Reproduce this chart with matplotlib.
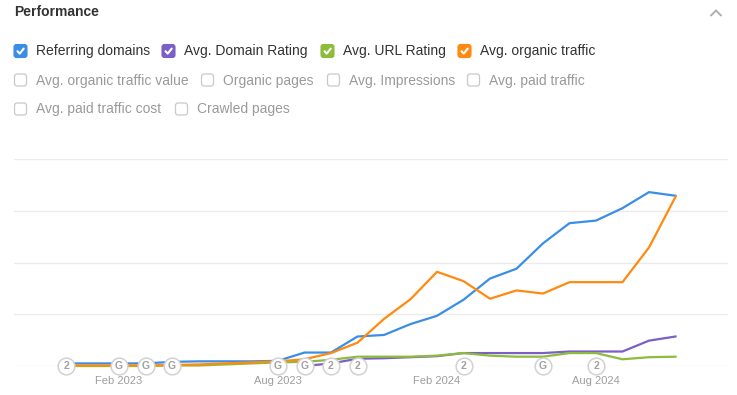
import numpy as np
import matplotlib
matplotlib.use('Agg')
import matplotlib.pyplot as plt
from matplotlib.patches import FancyBboxPatch

plt.rcParams['font.family'] = ['Liberation Sans', 'DejaVu Sans']

# Monthly points, Dec 2022 .. Nov 2024 (values on a relative scale, gridlines every 100)
months = ['Dec 2022', 'Jan 2023', 'Feb 2023', 'Mar 2023', 'Apr 2023', 'May 2023',
          'Jun 2023', 'Jul 2023', 'Aug 2023', 'Sep 2023', 'Oct 2023', 'Nov 2023',
          'Dec 2023', 'Jan 2024', 'Feb 2024', 'Mar 2024', 'Apr 2024', 'May 2024',
          'Jun 2024', 'Jul 2024', 'Aug 2024', 'Sep 2024', 'Oct 2024', 'Nov 2024']

referring_domains = [5, 5, 5, 5, 8, 9, 9, 9, 10, 26, 26, 57,
                     60, 81, 97, 128, 169, 188, 237, 276, 281, 305, 336, 329]
domain_rating = [None, None, None, None, None, None, None, None, None, 0, 5, 14,
                 15, 17, 19, 25, 25, 25, 25, 28, 28, 28, 49, 57]
url_rating = [0, 0, 0, 0, 1, 1, 3, 5, 7, 8, 12, 18,
              18, 18, 20, 25, 20, 18, 18, 25, 25, 13, 17, 18]
organic_traffic = [1, 1, 1, 1, 2, 3, 5, 7, 9, 13, 25, 45,
                   91, 129, 182, 164, 130, 146, 140, 162, 162, 162, 229, 327]

# annotation badges on the time axis
event_months = ['Dec 2022', 'Feb 2023', 'Mar 2023', 'Apr 2023', 'Aug 2023', 'Sep 2023',
                'Oct 2023', 'Nov 2023', 'Mar 2024', 'Jun 2024', 'Aug 2024']
event_labels = ['2', 'G', 'G', 'G', 'G', 'G', '2', '2', '2', 'G', '2']

tick_months = ['Feb 2023', 'Aug 2023', 'Feb 2024', 'Aug 2024']

checked_items = ['Referring domains', 'Avg. Domain Rating', 'Avg. URL Rating', 'Avg. organic traffic']
unchecked_items = ['Avg. organic traffic value', 'Organic pages', 'Avg. Impressions',
                   'Avg. paid traffic', 'Avg. paid traffic cost', 'Crawled pages']

c_blue = '#3a8ee4'
c_purple = '#7b5fc7'
c_green = '#8dbb3c'
c_orange = '#ff8a0f'

W, H = 737, 395
fig = plt.figure(figsize=(W / 100, H / 100), dpi=100)
fig.patch.set_facecolor('white')

# ---- chart area ----
ax = fig.add_axes([14 / W, (H - 366) / H, 714 / W, 207 / H])
x = np.arange(len(months))


def to_arr(vals):
    return np.array([np.nan if v is None else v for v in vals], dtype=float)


ax.plot(x, to_arr(referring_domains), color=c_blue, lw=1.6, zorder=3, clip_on=False)
ax.plot(x, to_arr(domain_rating), color=c_purple, lw=1.6, zorder=3, clip_on=False)
ax.plot(x, to_arr(url_rating), color=c_green, lw=1.6, zorder=3, clip_on=False)
ax.plot(x, to_arr(organic_traffic), color=c_orange, lw=1.6, zorder=3, clip_on=False)

ax.set_xlim(-52 / 26.5, (728 - 66) / 26.5)
ax.set_ylim(0, 400)
ax.set_yticks([0, 100, 200, 300, 400])
ax.yaxis.grid(True, color='#ebebeb', lw=1)
ax.set_axisbelow(True)
ax.tick_params(axis='y', left=False, labelleft=False)
for s in ax.spines.values():
    s.set_visible(False)

ax.set_xticks([months.index(m) for m in tick_months])
ax.set_xticklabels(tick_months, color='#9e9e9e', fontsize=8)
ax.tick_params(axis='x', length=0, pad=7.5)

ex = [months.index(m) for m in event_months]
ax.scatter(ex, np.zeros(len(ex)), s=145, facecolor='white', edgecolor='#d2d2d2',
           lw=1.1, zorder=5, clip_on=False)
for xi, lab in zip(ex, event_labels):
    ax.text(xi, 0, lab, ha='center', va='center', fontsize=7.5, fontweight='bold',
            color='#a0a0a0', zorder=6, clip_on=False)

# ---- header and checkbox legend (pixel coordinates) ----
ui = fig.add_axes([0, 0, 1, 1], zorder=-1)
ui.set_xlim(0, W)
ui.set_ylim(H, 0)
ui.axis('off')

ui.text(14, 12.5, 'Performance', fontsize=10, fontweight='bold', color='#333333',
        ha='left', va='center')
ui.plot([711, 716, 721], [15.5, 10.5, 15.5], color='#b0b0b0', lw=1.4,
        solid_capstyle='round', solid_joinstyle='miter')


def checkbox(x0, yc, label, color=None):
    size = 13
    if color is not None:
        box = FancyBboxPatch((x0, yc - size / 2), size, size,
                             boxstyle='round,pad=0,rounding_size=2.5',
                             facecolor=color, edgecolor=color, lw=0.8)
        ui.add_patch(box)
        ui.plot([x0 + 3.5, x0 + 5.7, x0 + 9.7], [yc + 0.2, yc + 2.6, yc - 2.4],
                color='white', lw=1.5, solid_capstyle='round', solid_joinstyle='round')
        txt_color = '#333333'
    else:
        box = FancyBboxPatch((x0 + 0.5, yc - size / 2 + 0.5), size - 1, size - 1,
                             boxstyle='round,pad=0,rounding_size=2.5',
                             facecolor='white', edgecolor='#c9c9c9', lw=0.9)
        ui.add_patch(box)
        txt_color = '#9a9a9a'
    ui.text(x0 + 22, yc + 0.5, label, fontsize=10, color=txt_color, ha='left', va='center')


row1_x = [14, 162, 321, 458]
for xb, lab, col in zip(row1_x, checked_items, [c_blue, c_purple, c_green, c_orange]):
    checkbox(xb, 51, lab, col)

row2_x = [14, 201, 327, 467]
for xb, lab in zip(row2_x, unchecked_items[:4]):
    checkbox(xb, 80, lab)

row3_x = [14, 175]
for xb, lab in zip(row3_x, unchecked_items[4:]):
    checkbox(xb, 109, lab)

fig.savefig('out.png', dpi=100, facecolor='white')
